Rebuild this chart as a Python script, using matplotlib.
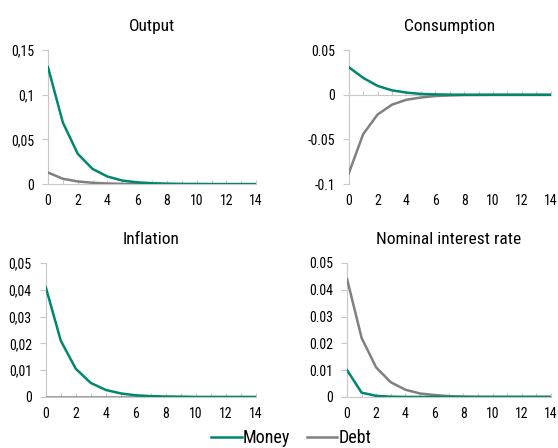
import matplotlib.pyplot as plt
import matplotlib.ticker as mticker
import numpy as np

plt.rcParams["font.family"] = ["Roboto Condensed", "Liberation Sans", "DejaVu Sans"]

horizon = np.arange(15)

output_money = [0.131, 0.069, 0.034, 0.017, 0.0085, 0.004, 0.002, 0.001, 0.0005, 0.0002, 0.0001, 0, 0, 0, 0]
output_debt = [0.013, 0.006, 0.003, 0.0015, 0.0007, 0.0003, 0.0001, 0.00005, 0, 0, 0, 0, 0, 0, 0]
cons_money = [0.031, 0.019, 0.010, 0.005, 0.0025, 0.001, 0.0005, 0.0002, 0.0001, 0, 0, 0, 0, 0, 0]
cons_debt = [-0.088, -0.044, -0.022, -0.011, -0.0055, -0.003, -0.0014, -0.0007, -0.0003, -0.0001, 0, 0, 0, 0, 0]
infl_money = [0.041, 0.021, 0.0105, 0.0052, 0.0026, 0.0013, 0.0006, 0.0003, 0.00015, 0.0001, 0, 0, 0, 0, 0]
infl_debt = [0] * 15
rate_money = [0.010, 0.0016, 0.0004, 0.0001, 0, 0, 0, 0, 0, 0, 0, 0, 0, 0, 0]
rate_debt = [0.044, 0.022, 0.011, 0.0055, 0.0027, 0.0013, 0.0007, 0.0003, 0.0001, 0, 0, 0, 0, 0, 0]

GREEN = "#00876c"
GREY = "#808080"
AXC = "#c8c8c8"

panels = [
    ("Output", output_money, output_debt, (0, 0.15), [0, 0.05, 0.1, 0.15], ["0", "0,05", "0,1", "0,15"],
     [0.086, 0.589, 0.373, 0.299]),
    ("Consumption", cons_money, cons_debt, (-0.1, 0.05), [-0.1, -0.05, 0, 0.05], ["-0.1", "-0.05", "0", "0.05"],
     [0.625, 0.589, 0.362, 0.299]),
    ("Inflation", infl_money, infl_debt, (0, 0.05), [0, 0.01, 0.02, 0.03, 0.04, 0.05],
     ["0", "0,01", "0,02", "0,03", "0,04", "0,05"], [0.082, 0.114, 0.377, 0.299]),
    ("Nominal interest rate", rate_money, rate_debt, (0, 0.05), [0, 0.01, 0.02, 0.03, 0.04, 0.05],
     ["0", "0.01", "0.02", "0.03", "0.04", "0.05"], [0.622, 0.114, 0.365, 0.299]),
]

fig = plt.figure(figsize=(5.58, 4.48), dpi=100)

for title, money, debt, ylim, yticks, ylabels, pos in panels:
    ax = fig.add_axes(pos)
    ax.plot(horizon, debt, color=GREY, lw=1.8, label="Debt", zorder=3)
    ax.plot(horizon, money, color=GREEN, lw=1.8, label="Money", zorder=4)
    ax.set_xlim(0, 14)
    ax.set_ylim(*ylim)
    ax.set_yticks(yticks)
    ax.set_yticklabels(ylabels)
    ax.set_title(title, fontsize=12.5, pad=14)

    for s in ("top", "right"):
        ax.spines[s].set_visible(False)
    ax.spines["left"].set_color(AXC)
    ax.spines["left"].set_linewidth(0.8)
    ax.spines["bottom"].set_position(("data", 0))
    ax.spines["bottom"].set_color(AXC)
    ax.spines["bottom"].set_linewidth(0.8)

    ax.xaxis.set_major_locator(mticker.MultipleLocator(1))
    ax.tick_params(axis="x", direction="in", length=3, color=AXC, labelbottom=False)
    ax.tick_params(axis="y", direction="out", length=4, color=AXC, labelsize=10, pad=6)

    sec = ax.secondary_xaxis(0)
    sec.set_xticks(np.arange(0, 15, 2))
    sec.tick_params(length=0, labelsize=10, pad=7)
    sec.spines["bottom"].set_visible(False)

h, l = ax.get_legend_handles_labels()
fig.legend(h[::-1], l[::-1], loc="center", bbox_to_anchor=(0.522, 0.022), ncol=2,
           frameon=False, fontsize=13, handlelength=1.7, handletextpad=0.05, columnspacing=0.9,
           borderpad=0)

fig.savefig("out.png", dpi=100)
